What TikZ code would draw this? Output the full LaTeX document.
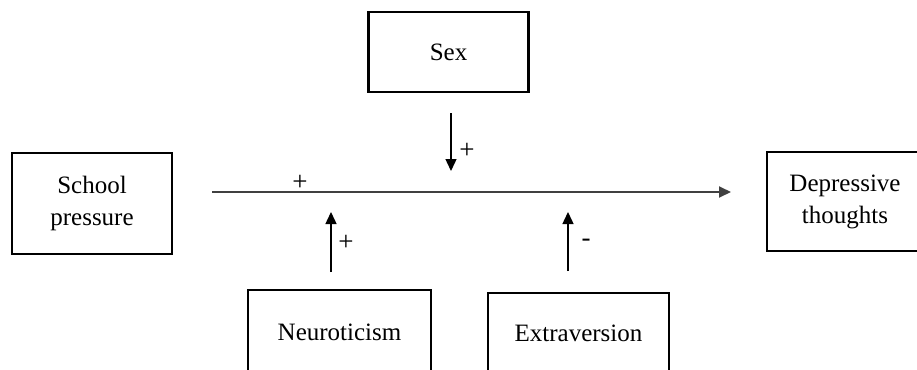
\documentclass[tikz,border=0pt]{standalone}
\usepackage{fontspec}
\setmainfont{Liberation Serif}
\usetikzlibrary{arrows.meta}
\begin{document}
\begin{tikzpicture}[x={(1pt,0pt)},y={(0pt,-1pt)},
  box/.style={draw=black,line width=2.8pt,rectangle,inner sep=0pt,align=center,
    font=\fontsize{25}{32}\selectfont},
  conn/.style={line width=1.4pt,-{Triangle[length=12pt,width=11pt]}},
  sign/.style={font=\fontsize{27}{30}\selectfont,inner sep=0pt}]
\useasboundingbox (0,0) rectangle (917,369);
\begin{scope}
\clip (0,0) rectangle (917,369);
\node[box,minimum width=160pt,minimum height=80pt] (sex) at (448.5,52) {Sex};
\node[box,minimum width=160pt,minimum height=101pt] (school) at (92,203.5) {School\\pressure};
\node[box,minimum width=156pt,minimum height=99pt] (dep) at (845,201.5) {Depressive\\thoughts};
\node[box,minimum width=183pt,minimum height=84pt] (neuro) at (339.5,332) {Neuroticism};
\node[box,minimum width=181pt,minimum height=80pt] (extra) at (578.5,333) {Extraversion};
\end{scope}
\coordinate (ms) at (212,192);
\coordinate (me) at (731,192);
\coordinate (ss) at (451,113);
\coordinate (se) at (451,171);
\coordinate (ns) at (331,272);
\coordinate (ne) at (331,212);
\coordinate (es) at (568,271);
\coordinate (ee) at (568,212);
\draw[conn,draw=black!75,fill=black,line width=1.8pt] (ms) -- (me);
\draw[conn] (ss) -- (se);
\draw[conn] (ns) -- (ne);
\draw[conn] (es) -- (ee);
\node[sign] (p0) at (300,183) {+};
\node[sign] (p1) at (467,151) {+};
\node[sign] (p2) at (346,243) {+};
\node[sign] (p3) at (586,243) {-};
\end{tikzpicture}
\end{document}
